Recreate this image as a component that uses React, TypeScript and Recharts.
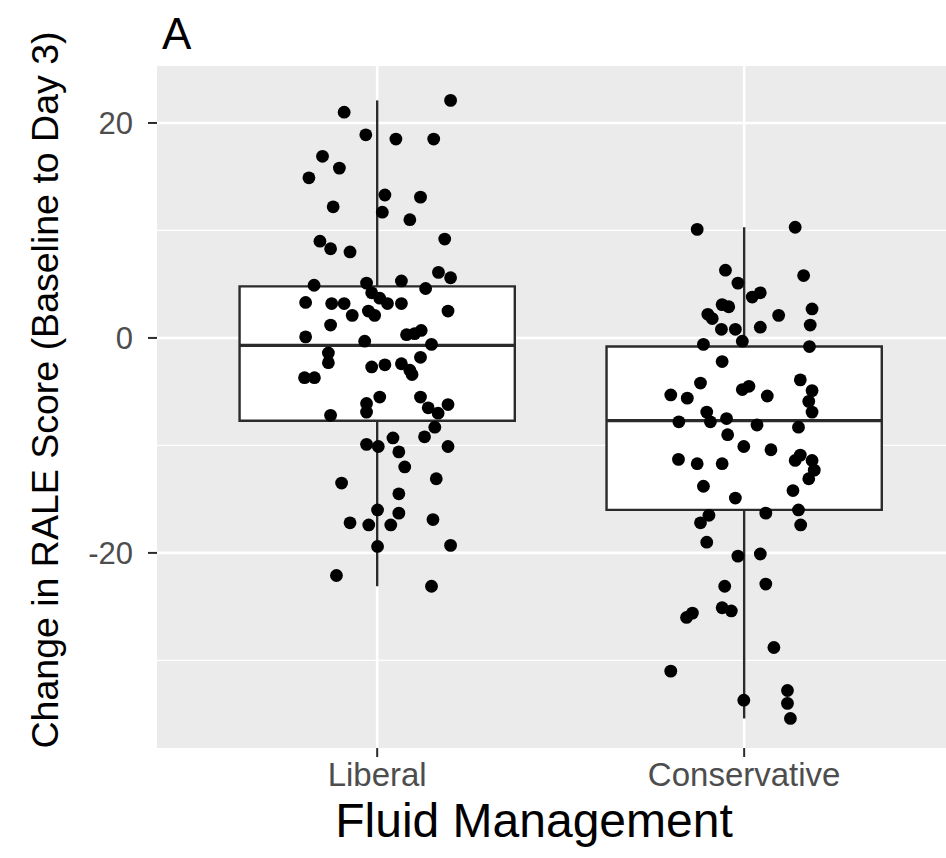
import {
  CartesianGrid,
  ComposedChart,
  ReferenceArea,
  ReferenceLine,
  Scatter,
  XAxis,
  YAxis,
} from "recharts";

// groups on the discrete x axis
const groups = ["Liberal", "Conservative"];
const groupPos = [1, 2];

// box summaries per group: whisker ends, quartiles, median
const whiskerLow = [-23.1, -35.4];
const q1 = [-7.7, -16.0];
const median = [-0.7, -7.7];
const q3 = [4.8, -0.8];
const whiskerHigh = [22.1, 10.3];

const yTicks = [-20, 0, 20];
const yMinor = [-30, -10, 10];

// jittered observations: [x position, change in score]
const liberalPoints: [number, number][] = [
  [1.2, 22.1], [0.91, 21.0], [0.969, 18.9], [1.051, 18.5], [1.154, 18.5],
  [0.851, 16.9], [0.897, 15.8], [0.814, 14.9], [1.021, 13.3], [1.118, 13.1],
  [0.88, 12.2], [1.014, 11.7], [1.089, 11.0], [1.184, 9.2], [0.844, 9.0],
  [0.873, 8.3], [0.926, 8.0], [1.167, 6.1], [1.2, 5.6], [0.828, 4.9],
  [0.971, 5.1], [1.066, 5.3], [1.132, 4.6],
  [0.805, 3.3], [0.876, 3.2], [0.91, 3.2], [0.985, 4.2], [1.007, 3.7],
  [1.028, 3.2], [1.066, 3.2], [0.932, 2.1], [0.976, 2.5], [0.993, 2.1],
  [1.193, 2.5], [0.873, 1.2], [0.805, 0.1], [0.966, -0.3], [1.08, 0.3],
  [1.102, 0.4], [1.12, 0.7], [1.148, -0.6], [0.867, -1.4], [0.867, -2.3],
  [1.118, -1.8], [0.802, -3.7], [0.829, -3.7], [0.985, -2.7], [1.021, -2.5],
  [1.066, -2.4], [1.089, -3.0], [1.095, -3.4], [0.971, -6.1], [0.971, -6.9],
  [1.007, -5.5], [1.118, -5.5], [1.139, -6.5], [1.166, -7.0], [1.193, -6.2],
  [0.873, -7.2],
  [1.157, -8.3], [1.129, -9.2], [1.043, -9.3], [0.971, -9.9], [1.003, -10.1],
  [1.193, -10.1], [1.059, -10.6], [1.075, -12.0], [0.903, -13.5], [1.161, -13.1],
  [1.059, -14.5], [1.001, -16.0], [1.059, -16.3], [0.926, -17.2], [0.977, -17.4],
  [1.037, -17.4], [1.152, -16.9], [1.001, -19.4], [1.2, -19.3], [0.889, -22.1],
  [1.148, -23.1],
];

const conservativePoints: [number, number][] = [
  [1.872, 10.1], [2.139, 10.3], [1.949, 6.3], [2.162, 5.8], [1.983, 5.1],
  [2.022, 3.8], [2.044, 4.2], [1.94, 3.1], [1.958, 2.9], [1.901, 2.2],
  [1.913, 1.8], [2.094, 2.1], [2.185, 2.7], [2.18, 1.2], [2.044, 1.0],
  [1.938, 0.8], [1.976, 0.8], [1.889, -0.6], [1.995, -0.3], [2.178, -0.8],
  [1.94, -2.2], [1.881, -4.2], [2.153, -3.9], [1.995, -4.8], [2.013, -4.5],
  [2.185, -4.9], [1.8, -5.3], [1.845, -5.6], [2.063, -5.4], [2.176, -5.9],
  [2.185, -6.9], [1.898, -6.9], [1.908, -7.8], [1.822, -7.8], [1.952, -7.5],
  [2.035, -8.1], [2.148, -8.3], [1.955, -9.0], [1.999, -10.1], [2.073, -10.4],
  [1.821, -11.3], [1.872, -11.7], [1.94, -11.7], [2.139, -11.4], [2.153, -10.9],
  [2.185, -11.4], [2.191, -12.3], [2.176, -13.1], [1.889, -13.8], [2.133, -14.2],
  [1.976, -14.9], [2.059, -16.3], [2.148, -16.0], [1.904, -16.5], [1.881, -17.2],
  [2.154, -17.4], [1.898, -19.0], [1.983, -20.3], [2.044, -20.1], [1.947, -23.1],
  [2.059, -22.9], [1.843, -26.0], [1.859, -25.6], [1.94, -25.1], [1.965, -25.4],
  [2.081, -28.8], [1.8, -31.0], [1.999, -33.7], [2.118, -32.8], [2.118, -34.0],
  [2.126, -35.4],
];

const points = [...liberalPoints, ...conservativePoints].map(([x, y]) => ({ x, y }));

const BOX_HALF = 0.375;
const FONT = "'Liberation Sans', Arial, sans-serif";
const LINE = "#2b2b2b";

const Dot = (props: any) => <circle cx={props.cx} cy={props.cy} r={6.4} fill="#000" />;

const YTitle = () => (
  <text
    transform="translate(58, 390) rotate(-90)"
    textAnchor="middle"
    fontSize={37.5}
    fontFamily={FONT}
    fill="#000"
  >
    Change in RALE Score (Baseline to Day 3)
  </text>
);

const XTitle = () => (
  <text x={534} y={837} textAnchor="middle" fontSize={48} fontFamily={FONT} fill="#000">
    Fluid Management
  </text>
);

export default function App() {
  return (
    <div style={{ position: "absolute", left: 0, top: 0, width: 946, height: 858, background: "#fff" }}>
      <div
        style={{
          position: "absolute",
          left: 162,
          top: 12,
          fontSize: 44,
          lineHeight: 1,
          fontFamily: FONT,
          color: "#000",
        }}
      >
        A
      </div>
      <ComposedChart width={946} height={858} margin={{ top: 66, right: 0, bottom: 0, left: 0 }}>
        <CartesianGrid
          fill="#EBEBEB"
          stroke="#fff"
          strokeWidth={1.3}
          vertical={false}
          horizontalValues={yMinor}
        />
        <CartesianGrid stroke="#fff" strokeWidth={2.6} horizontalValues={yTicks} verticalValues={groupPos} />
        <XAxis
          type="number"
          dataKey="x"
          domain={[0.4, 2.55]}
          ticks={groupPos}
          allowDataOverflow
          tickFormatter={(v: number) => groups[groupPos.indexOf(v)] ?? ""}
          axisLine={false}
          tickLine={{ stroke: LINE, strokeWidth: 2 }}
          tickSize={9}
          tickMargin={6}
          tick={{ fontSize: 33, fill: "#4D4D4D", fontFamily: FONT }}
          height={110}
          label={<XTitle />}
        />
        <YAxis
          type="number"
          dataKey="y"
          domain={[-38.15, 25.3]}
          ticks={yTicks}
          allowDataOverflow
          axisLine={false}
          tickLine={{ stroke: LINE, strokeWidth: 2 }}
          tickSize={9}
          tickMargin={15}
          tick={{ fontSize: 31, fill: "#4D4D4D", fontFamily: FONT }}
          width={157}
          label={<YTitle />}
        />
        {groupPos.map((p, i) => (
          <ReferenceLine
            key={`hi-${i}`}
            segment={[{ x: p, y: q3[i] }, { x: p, y: whiskerHigh[i] }]}
            stroke={LINE}
            strokeWidth={2.4}
          />
        ))}
        {groupPos.map((p, i) => (
          <ReferenceLine
            key={`lo-${i}`}
            segment={[{ x: p, y: whiskerLow[i] }, { x: p, y: q1[i] }]}
            stroke={LINE}
            strokeWidth={2.4}
          />
        ))}
        {groupPos.map((p, i) => (
          <ReferenceArea
            key={`box-${i}`}
            x1={p - BOX_HALF}
            x2={p + BOX_HALF}
            y1={q1[i]}
            y2={q3[i]}
            fill="#fff"
            fillOpacity={1}
            stroke={LINE}
            strokeWidth={2.4}
          />
        ))}
        {groupPos.map((p, i) => (
          <ReferenceLine
            key={`med-${i}`}
            segment={[{ x: p - BOX_HALF, y: median[i] }, { x: p + BOX_HALF, y: median[i] }]}
            stroke={LINE}
            strokeWidth={3.2}
          />
        ))}
        <Scatter data={points} dataKey="y" shape={Dot} isAnimationActive={false} />
      </ComposedChart>
    </div>
  );
}
